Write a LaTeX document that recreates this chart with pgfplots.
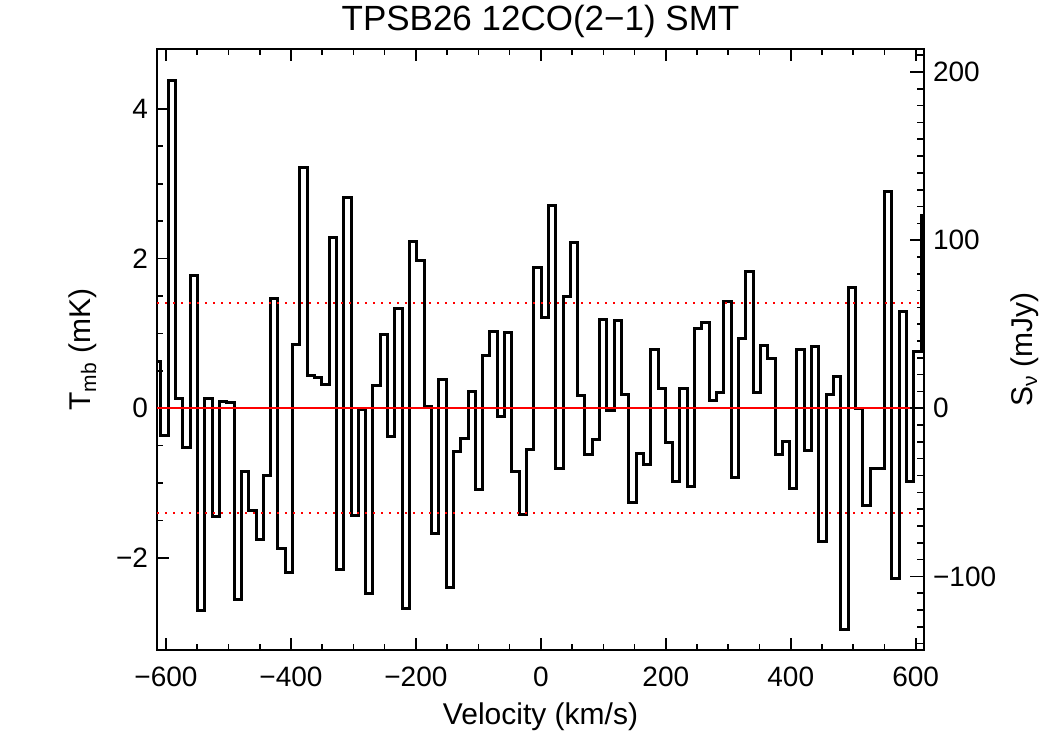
\documentclass[border=0pt]{standalone}
\usepackage{fontspec}
\setmainfont{Liberation Sans}
\usepackage{pgfplots}
\pgfplotsset{compat=1.18}

% Channel left edges (km/s) and main-beam temperature (mK)
\pgfplotstableread{
v T
-619.7 0.63
-608.0 -0.36
-596.3 4.38
-584.6 0.13
-572.9 -0.53
-561.2 1.78
-549.5 -2.70
-537.8 0.13
-526.1 -1.44
-514.4 0.09
-502.7 0.08
-491.0 -2.55
-479.3 -0.84
-467.6 -1.37
-455.9 -1.75
-444.2 -0.90
-432.5 1.46
-420.8 -1.88
-409.1 -2.20
-397.4 0.85
-385.7 3.22
-374.0 0.44
-362.3 0.41
-350.6 0.32
-338.9 2.28
-327.2 -2.16
-315.5 2.82
-303.8 -1.43
-292.1 -0.02
-280.4 -2.47
-268.7 0.31
-257.0 0.99
-245.3 -0.38
-233.6 1.33
-221.9 -2.67
-210.2 2.23
-198.5 1.97
-186.8 0.02
-175.1 -1.68
-163.4 0.39
-151.7 -2.40
-140.0 -0.58
-128.3 -0.40
-116.6 0.23
-104.9 -1.08
-93.2 0.71
-81.5 1.03
-69.8 -0.11
-58.1 1.01
-46.4 -0.84
-34.7 -1.42
-23.0 -0.55
-11.3 1.88
0.4 1.21
12.1 2.71
23.8 -0.80
35.5 1.49
47.2 2.21
58.9 0.17
70.6 -0.62
82.3 -0.42
94.0 1.19
105.7 -0.03
117.4 1.17
129.1 0.18
140.8 -1.26
152.5 -0.60
164.2 -0.75
175.9 0.78
187.6 0.27
199.3 -0.46
211.0 -0.98
222.7 0.27
234.4 -1.05
246.1 1.07
257.8 1.15
269.5 0.10
281.2 0.21
292.9 1.43
304.6 -0.92
316.3 0.93
328.0 1.83
339.7 0.21
351.4 0.84
363.1 0.67
374.8 -0.62
386.5 -0.45
398.2 -1.07
409.9 0.78
421.6 -0.56
433.3 0.82
445.0 -1.78
456.7 0.18
468.4 0.42
480.1 -2.96
491.8 1.61
503.5 -0.01
515.2 -1.30
526.9 -0.80
538.6 -0.81
550.3 2.90
562.0 -2.27
573.7 1.29
585.4 -0.98
597.1 0.76
608.8 2.58
620.5 2.58
}\spectrum

\def\vmin{-614.4}
\def\vmax{613.3}

\begin{document}
\begin{tikzpicture}
\path[use as bounding box] (0,0) rectangle (525pt,375pt);

% Temperature scale (left) with velocity axis
\begin{axis}[
  at={(78.5pt,50pt)}, anchor=south west,
  scale only axis, width=383.5pt, height=300.5pt,
  xmin=\vmin, xmax=\vmax, ymin=-3.23, ymax=4.80,
  xtick={-600,-400,-200,0,200,400,600},
  xticklabels={−600,−400,−200,0,200,400,600},
  minor x tick num=3,
  ytick={-2,0,2,4},
  yticklabels={−2,0,2,4},
  minor y tick num=3,
  xtick pos=both, ytick pos=left,
  tick align=inside,
  major tick length=6pt, minor tick length=3pt,
  axis line style={line width=1pt},
  every tick/.style={black, line width=0.8pt},
  ticklabel style={font=\fontsize{14}{16}\selectfont},
  xticklabel style={yshift=-5pt},
  yticklabel style={xshift=-1pt},
  title={TPSB26 12CO(2−1) SMT},
  title style={font=\fontsize{17.5}{20}\selectfont, yshift=-4pt},
  xlabel={Velocity (km/s)},
  xlabel style={font=\fontsize{15}{18}\selectfont, yshift=-1pt},
  ylabel={T\textsubscript{mb} (mK)},
  ylabel style={font=\fontsize{15}{18}\selectfont, at={(axis description cs:-0.0965,0.5)}, anchor=center},
  clip=true,
]
\addplot[const plot, black, line width=1.5pt, line join=miter] table[x=v, y=T] {\spectrum};
\addplot[red, line width=1pt] coordinates {(\vmin,0) (\vmax,0)};
\addplot[red, line width=1pt, dash pattern=on 1pt off 3pt] coordinates {(\vmin,1.4) (\vmax,1.4)};
\addplot[red, line width=1pt, dash pattern=on 1pt off 3pt] coordinates {(\vmin,-1.4) (\vmax,-1.4)};
\end{axis}

% Flux density scale (right)
\begin{axis}[
  at={(78.5pt,50pt)}, anchor=south west,
  scale only axis, width=383.5pt, height=300.5pt,
  xmin=\vmin, xmax=\vmax, ymin=-143.8, ymax=213.7,
  axis x line=none, axis y line*=right,
  ytick={-100,0,100,200},
  yticklabels={−100,0,100,200},
  minor ytick={-140,-130,...,210},
  tick align=inside,
  major tick length=7pt, minor tick length=3.5pt,
  axis line style={line width=1pt, -},
  every tick/.style={black, line width=0.8pt},
  ticklabel style={font=\fontsize{14}{16}\selectfont},
  yticklabel style={xshift=1pt},
  ylabel={S\textsubscript{ν} (mJy)},
  ylabel style={font=\fontsize{15}{18}\selectfont, at={(axis description cs:1.1317,0.5)}, anchor=center, rotate=0},
]
\addplot[draw=none] coordinates {(0,0)};
\end{axis}
\end{tikzpicture}
\end{document}
